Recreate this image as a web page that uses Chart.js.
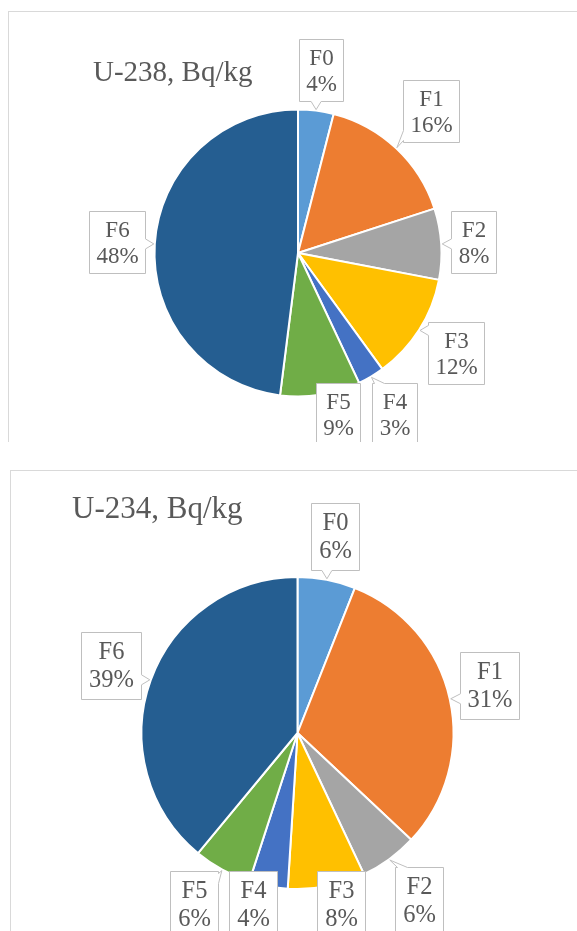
<!DOCTYPE html>
<html>
<head>
<meta charset="utf-8">
<script src="https://cdn.jsdelivr.net/npm/chart.js@4/dist/chart.umd.min.js"></script>
<style>
  html, body { margin: 0; padding: 0; background: #fff; }
  body { width: 577px; height: 931px; position: relative; overflow: hidden; }
  .panel { position: absolute; border-left: 1px solid #d9d9d9; border-top: 1px solid #d9d9d9; overflow: hidden; background: #fff; }
  #p1 { left: 8px; top: 11px; width: 568px; height: 430px; }
  #p2 { left: 10px; top: 470px; width: 566px; height: 460px; }
  canvas { display: block; }
</style>
</head>
<body>
<div class="panel" id="p1"><canvas id="c1" width="568" height="430"></canvas></div>
<div class="panel" id="p2"><canvas id="c2" width="566" height="460"></canvas></div>
<script>
// Fractions and their share of total activity (%)
const fractions = ['F0', 'F1', 'F2', 'F3', 'F4', 'F5', 'F6'];
const u238Share = [4, 16, 8, 12, 3, 9, 48];
const u234Share = [6, 31, 6, 8, 4, 6, 39];
const u238Title = 'U-238, Bq/kg';
const u234Title = 'U-234, Bq/kg';

const sliceColors = ['#5B9BD5', '#ED7D31', '#A5A5A5', '#FFC000', '#4472C4', '#70AD47', '#255E91'];
const textColor = '#595959';
const serif = '"Liberation Serif", "Times New Roman", serif';

// Callout outline: a box with a wedge reaching toward the slice edge
function calloutPath(ctx, L, T, R, B, ax, ay, bw) {
  const dxo = ax < L ? L - ax : (ax > R ? ax - R : 0);
  const dyo = ay < T ? T - ay : (ay > B ? ay - B : 0);
  ctx.beginPath();
  if (dxo === 0 && dyo === 0) { ctx.rect(L, T, R - L, B - T); return; }
  if (dyo >= dxo) {
    const px = Math.min(Math.max(ax, L + bw + 2), R - bw - 2);
    if (ay < T) {
      ctx.moveTo(L, T); ctx.lineTo(px - bw, T); ctx.lineTo(ax, ay); ctx.lineTo(px + bw, T);
      ctx.lineTo(R, T); ctx.lineTo(R, B); ctx.lineTo(L, B);
    } else {
      ctx.moveTo(L, T); ctx.lineTo(R, T); ctx.lineTo(R, B); ctx.lineTo(px + bw, B);
      ctx.lineTo(ax, ay); ctx.lineTo(px - bw, B); ctx.lineTo(L, B);
    }
  } else {
    const py = Math.min(Math.max(ay, T + bw + 2), B - bw - 2);
    if (ax > R) {
      ctx.moveTo(L, T); ctx.lineTo(R, T); ctx.lineTo(R, py - bw); ctx.lineTo(ax, ay);
      ctx.lineTo(R, py + bw); ctx.lineTo(R, B); ctx.lineTo(L, B);
    } else {
      ctx.moveTo(L, T); ctx.lineTo(R, T); ctx.lineTo(R, B); ctx.lineTo(L, B);
      ctx.lineTo(L, py + bw); ctx.lineTo(ax, ay); ctx.lineTo(L, py - bw);
    }
  }
  ctx.closePath();
}

// Draws the chart title and a callout label for every slice
const calloutPlugin = {
  id: 'callouts',
  afterDatasetsDraw(chart, args, opts) {
    const ctx = chart.ctx;
    const meta = chart.getDatasetMeta(0);
    const values = chart.data.datasets[0].data;
    const total = values.reduce((a, b) => a + b, 0);
    ctx.save();

    ctx.fillStyle = textColor;
    ctx.font = opts.titleSize + 'px ' + serif;
    ctx.textAlign = 'left';
    ctx.textBaseline = 'alphabetic';
    ctx.fillText(opts.title, opts.titleX, opts.titleY);

    ctx.font = opts.fontSize + 'px ' + serif;
    meta.data.forEach((arc, i) => {
      const p = arc.getProps(['x', 'y', 'startAngle', 'endAngle', 'outerRadius'], true);
      const mid = (p.startAngle + p.endAngle) / 2;
      const ux = Math.cos(mid), uy = Math.sin(mid);
      const line1 = chart.data.labels[i];
      const line2 = Math.round(values[i] / total * 100) + '%';
      const w = Math.max(ctx.measureText(line1).width, ctx.measureText(line2).width) + 2 * opts.padX;
      const h = 2 * opts.lineHeight + 2 * opts.padY;
      const hw = w / 2, hh = h / 2;
      const tx = Math.abs(ux) > 1e-6 ? hw / Math.abs(ux) : Infinity;
      const ty = Math.abs(uy) > 1e-6 ? hh / Math.abs(uy) : Infinity;
      const d = p.outerRadius + opts.gap + Math.min(tx, ty);
      let cx = p.x + ux * d, cy = p.y + uy * d;
      if (cy + hh > opts.maxBottom) cy = opts.maxBottom - hh;
      const n = opts.nudge[i] || [0, 0];
      cx += n[0]; cy += n[1];

      const L = Math.round(cx - hw) + 0.5, R = Math.round(cx + hw) + 0.5;
      const T = Math.round(cy - hh) + 0.5, B = Math.round(cy + hh) + 0.5;
      const ax = p.x + ux * (p.outerRadius + 1), ay = p.y + uy * (p.outerRadius + 1);
      calloutPath(ctx, L, T, R, B, ax, ay, 5);
      ctx.fillStyle = '#ffffff';
      ctx.fill();
      ctx.strokeStyle = '#BFBFBF';
      ctx.lineWidth = 1;
      ctx.stroke();

      ctx.fillStyle = textColor;
      ctx.textAlign = 'center';
      ctx.textBaseline = 'middle';
      const mx = (L + R) / 2, my = (T + B) / 2;
      ctx.fillText(line1, mx, my - opts.lineHeight / 2 + 1);
      ctx.fillText(line2, mx, my + opts.lineHeight / 2 + 1);
    });
    ctx.restore();
  }
};

function makePie(canvasId, values, radius, padding, labelOpts) {
  return new Chart(document.getElementById(canvasId), {
    type: 'pie',
    data: {
      labels: fractions,
      datasets: [{
        data: values,
        backgroundColor: sliceColors,
        borderColor: '#ffffff',
        borderWidth: 2
      }]
    },
    options: {
      responsive: false,
      animation: false,
      events: [],
      radius: radius,
      layout: { padding: padding },
      plugins: {
        legend: { display: false },
        tooltip: { enabled: false },
        title: { display: false },
        callouts: labelOpts
      }
    },
    plugins: [calloutPlugin]
  });
}

makePie('c1', u238Share, 143.5,
  { left: 139, right: 129, top: 91, bottom: 39 },
  {
    title: u238Title, titleX: 84, titleY: 69, titleSize: 29,
    fontSize: 23, lineHeight: 26, padX: 7, padY: 5, gap: 10,
    maxBottom: 433,
    nudge: [[0, 0], [0, 0], [0, 0], [0, 0], [0, 0], [11, 0], [0, 0]]
  });

makePie('c2', u234Share, 156,
  { left: 126.5, right: 119.5, top: 102, bottom: 38 },
  {
    title: u234Title, titleX: 61, titleY: 47, titleSize: 31,
    fontSize: 24.5, lineHeight: 28, padX: 7.5, padY: 5.5, gap: 10,
    maxBottom: 467,
    nudge: [[0, 0], [0, -5], [0, 0], [6, 0], [-7, 0], [-5, 0], [0, 0]]
  });
</script>
</body>
</html>
